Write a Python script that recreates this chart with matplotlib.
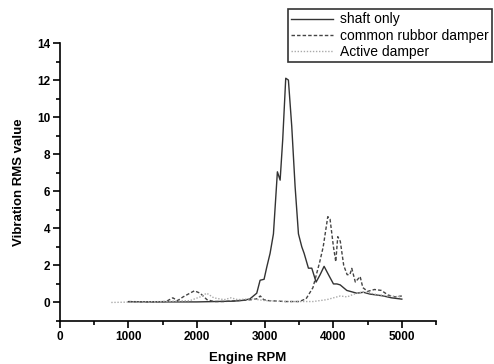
import matplotlib
matplotlib.use("Agg")
import matplotlib.pyplot as plt
from matplotlib.ticker import MultipleLocator

plt.rcParams['font.family'] = ['Liberation Sans', 'DejaVu Sans']

shaft_rpm = [1000, 1500, 2000, 2537, 2700, 2780, 2878, 2927, 2985, 3024, 3073, 3122, 3180, 3220,
             3258, 3302, 3341, 3390, 3439, 3488, 3537, 3571, 3634, 3683, 3746, 3805, 3863,
             3927, 4000, 4050, 4098, 4195, 4341, 4439, 4537, 4640, 4732, 4850, 5000]
shaft_val = [0.04, 0.03, 0.03, 0.07, 0.12, 0.2, 0.5, 1.2, 1.25, 1.9, 2.65, 3.7, 7.05, 6.6,
             8.8, 12.1, 12.0, 9.5, 6.25, 3.7, 3.0, 2.65, 1.85, 1.85, 1.1, 1.5, 1.95,
             1.5, 1.0, 1.0, 0.95, 0.65, 0.5, 0.55, 0.45, 0.4, 0.35, 0.25, 0.18]

rubber_rpm = [1000, 1300, 1550, 1650, 1720, 1800, 1900, 1966, 2050, 2150, 2250, 2400, 2600,
              2800, 2880, 2930, 2980, 3050, 3300, 3500, 3600, 3700, 3800, 3850, 3917, 3950,
              4000, 4034, 4063, 4100, 4150, 4200, 4240, 4268, 4320, 4390, 4430, 4500, 4600,
              4700, 4800, 4900, 5000]
rubber_val = [0.05, 0.03, 0.05, 0.25, 0.1, 0.3, 0.5, 0.63, 0.5, 0.15, 0.05, 0.05, 0.1,
              0.15, 0.2, 0.35, 0.15, 0.1, 0.05, 0.05, 0.2, 0.8, 2.2, 3.0, 4.63, 4.5,
              3.0, 2.2, 3.55, 3.3, 2.0, 1.5, 1.5, 1.84, 1.1, 1.4, 0.8, 0.6, 0.7,
              0.65, 0.4, 0.3, 0.35]

active_rpm = [750, 1000, 1500, 1900, 2050, 2146, 2250, 2400, 2500, 2600, 2800, 3000, 3300,
              3500, 3700, 3900, 4000, 4100, 4200, 4300, 4400, 4500, 4600, 4800, 5000]
active_val = [0.0, 0.02, 0.05, 0.1, 0.3, 0.5, 0.25, 0.15, 0.25, 0.15, 0.2, 0.1, 0.05,
              0.05, 0.05, 0.15, 0.25, 0.35, 0.3, 0.45, 0.55, 0.55, 0.45, 0.35, 0.3]

fig = plt.figure(figsize=(4.94, 3.64), dpi=100)
ax = fig.add_axes([60/494, 43/364, 376/494, 278/364])

l1, = ax.plot(shaft_rpm, shaft_val, color='#333333', lw=1.0, ls='-')
l2, = ax.plot(rubber_rpm, rubber_val, color='#444444', lw=1.0, ls=(0, (2.5, 1.5)))
l3, = ax.plot(active_rpm, active_val, color='#aaaaaa', lw=1.0, ls=(0, (1, 1.2)))

ax.set_xlim(0, 5500)
ax.set_ylim(-1, 14)
ax.xaxis.set_major_locator(MultipleLocator(1000))
ax.xaxis.set_minor_locator(MultipleLocator(500))
ax.yaxis.set_major_locator(MultipleLocator(2))
ax.yaxis.set_minor_locator(MultipleLocator(1))
ax.spines['top'].set_visible(False)
ax.spines['right'].set_visible(False)
for s in ('left', 'bottom'):
    ax.spines[s].set_linewidth(1.2)
ax.tick_params(which='major', direction='out', length=5, width=1.2, labelsize=8.5, pad=2)
ax.tick_params(which='minor', direction='out', length=3, width=1.2)
for lab in ax.get_xticklabels() + ax.get_yticklabels():
    lab.set_fontweight('bold')

ax.set_xlabel('Engine RPM', fontsize=9.5, fontweight='bold', labelpad=7)
ax.set_ylabel('Vibration RMS value', fontsize=9.5, fontweight='bold', labelpad=9)

leg = fig.legend([l1, l2, l3], ['shaft only', 'common rubbor damper', 'Active damper'],
                 loc='upper left', bbox_to_anchor=(288/494, 1 - 9/364),
                 frameon=True, fancybox=False, fontsize=10, handlelength=3.0,
                 handletextpad=0.5, labelspacing=0.15, borderpad=0.25,
                 borderaxespad=0)
leg.get_frame().set_edgecolor('black')
leg.get_frame().set_linewidth(1.2)

fig.savefig('out.png', dpi=100)
